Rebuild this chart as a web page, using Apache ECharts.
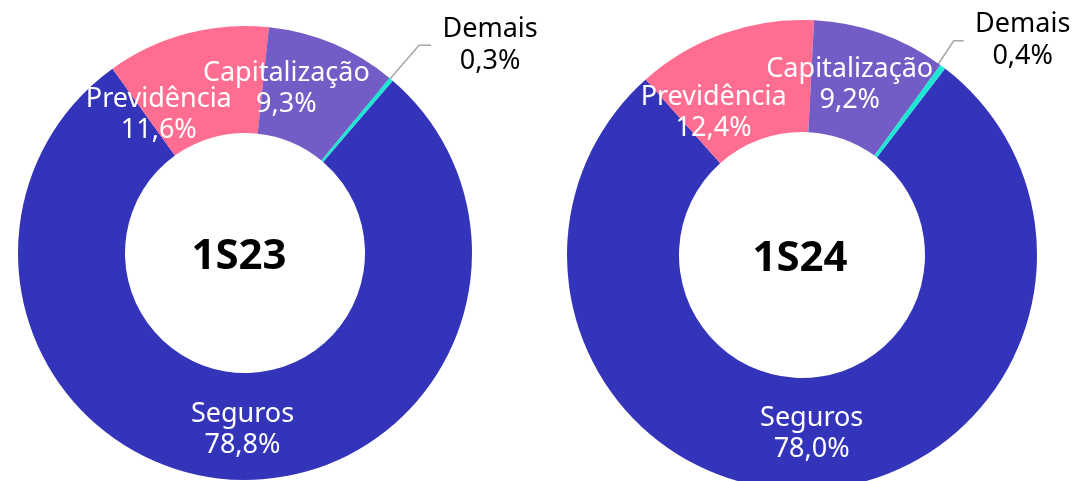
<!DOCTYPE html>
<html>
<head>
<meta charset="utf-8">
<script src="https://cdn.jsdelivr.net/npm/echarts@6/dist/echarts.min.js"></script>
<style>
  html, body { margin: 0; padding: 0; background: #ffffff; }
  #chart { width: 1073px; height: 481px; }
</style>
</head>
<body>
<div id="chart"></div>
<script>
// Revenue mix by business line, first half of each year (%)
const categories = ['Seguros', 'Previdência', 'Capitalização', 'Demais'];
const periods = ['1S23', '1S24'];
const values1S23 = [78.8, 11.6, 9.3, 0.3];
const values1S24 = [78.0, 12.4, 9.2, 0.4];

const colors = ['#3434BB', '#FF6E91', '#735CC5', '#1EE6D4'];
const FONT = '"Noto Sans", "Open Sans", sans-serif';

// Per-donut placement and label tweaks
const layouts = [
  {
    center: [245, 253], radius: [120, 227], startAngle: 49.4,
    titlePos: [239, 257],
    shifts: [[5, 0], [-41, 32], [-27, -1]],
    knee: [28, -34], tail: 12
  },
  {
    center: [802, 255], radius: [123, 235], startAngle: 52.5,
    titlePos: [800, 259],
    shifts: [[3, -3], [-28, 30], [-13, 1]],
    knee: [11, -26], tail: 10
  }
];

const fmtPct = v => v.toFixed(1).replace('.', ',') + '%';
const OUTSIDE = categories.length - 1; // the tiny "Demais" slice gets an outside label

function buildSeries(values, lay) {
  const data = values.map((v, i) => {
    const item = { name: categories[i], value: v, itemStyle: { color: colors[i] } };
    if (i === OUTSIDE) {
      item.label = {
        position: 'outside',
        formatter: p => '{t|' + p.name + '}\n{t|' + fmtPct(p.value) + '}',
        rich: {
          t: { width: 108, align: 'center', fontSize: 27, lineHeight: 32,
               color: '#000000', fontFamily: FONT }
        }
      };
      item.labelLine = { show: true, lineStyle: { color: '#A6A6A6', width: 1.5 } };
    } else {
      item.label = {
        position: 'inside',
        formatter: p => p.name + '\n' + fmtPct(p.value),
        color: '#ffffff', fontSize: 27, lineHeight: 31, fontFamily: FONT
      };
      item.labelLine = { show: false };
    }
    return item;
  });

  const [cx, cy] = lay.center;
  const ringMid = (lay.radius[0] + lay.radius[1]) / 2;

  return {
    type: 'pie',
    center: lay.center,
    radius: lay.radius,
    startAngle: lay.startAngle,
    clockwise: true,
    avoidLabelOverlap: false,
    silent: true,
    labelLine: { length: 20, length2: 10 },
    data: data,
    labelLayout: function (params) {
      const i = params.dataIndex;
      if (i !== OUTSIDE) {
        const s = lay.shifts[i];
        return { dx: s[0], dy: s[1] };
      }
      const pts = params.labelLinePoints;
      if (!pts) return {};
      const p0 = pts[0];
      // leader starts mid-ring, along the slice's leading edge
      const ang = Math.atan2(p0[1] - cy, p0[0] - cx) - 0.6 * Math.PI / 180;
      const start = [cx + Math.cos(ang) * ringMid, cy + Math.sin(ang) * ringMid];
      const knee = [p0[0] + lay.knee[0], p0[1] + lay.knee[1]];
      const end = [knee[0] + lay.tail, knee[1]];
      return {
        x: end[0] + 5, y: end[1],
        align: 'left', verticalAlign: 'middle',
        labelLinePoints: [start, knee, end]
      };
    }
  };
}

const chart = echarts.init(document.getElementById('chart'), null, { renderer: 'canvas' });
chart.setOption({
  animation: false,
  backgroundColor: '#ffffff',
  series: [buildSeries(values1S23, layouts[0]), buildSeries(values1S24, layouts[1])],
  graphic: periods.map((p, k) => ({
    type: 'text',
    x: layouts[k].titlePos[0],
    y: layouts[k].titlePos[1],
    silent: true,
    style: {
      text: p, fill: '#000000', fontSize: 42, fontWeight: 'bold',
      fontFamily: FONT, textAlign: 'center', textVerticalAlign: 'middle'
    }
  }))
});
</script>
</body>
</html>
